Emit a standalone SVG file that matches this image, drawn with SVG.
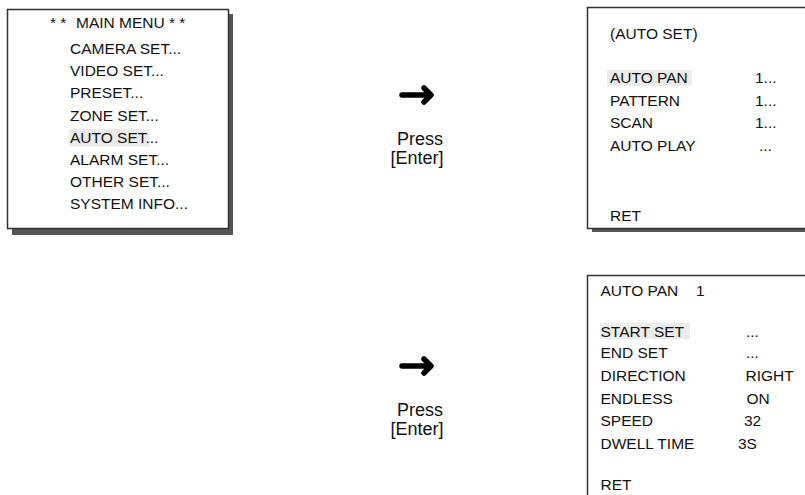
<svg xmlns="http://www.w3.org/2000/svg" width="805" height="495" viewBox="0 0 805 495">
<style>
text{font-family:"Liberation Sans",Arial,sans-serif;font-size:15.5px;fill:#111}
.box{fill:#fff;stroke:#333;stroke-width:1.5}
.shadow{fill:#555}
.hl{fill:#ececec}
.press{font-size:18px;text-anchor:middle}
.arrow{fill:none;stroke:#000;stroke-width:5.5;stroke-linecap:round;stroke-linejoin:round}
</style>
<rect width="805" height="495" fill="#fff"/>
<g id="main-menu">
<rect class="shadow" x="12" y="14" width="221" height="221"/>
<rect class="box" x="7.5" y="9.5" width="221" height="219"/>
<rect class="hl" x="69" y="129" width="81" height="18"/>
<text x="50" y="28">* *</text>
<text x="76" y="28">MAIN MENU * *</text>
<text x="70" y="54">CAMERA SET...</text>
<text x="70" y="76">VIDEO SET...</text>
<text x="70" y="98">PRESET...</text>
<text x="70" y="120.5">ZONE SET...</text>
<text x="70" y="143">AUTO SET...</text>
<text x="70" y="165">ALARM SET...</text>
<text x="70" y="187">OTHER SET...</text>
<text x="70" y="209">SYSTEM INFO...</text>
</g>
<g id="auto-set">
<rect class="shadow" x="592" y="12" width="230" height="220"/>
<rect class="box" x="587.5" y="7.5" width="230" height="221"/>
<rect class="hl" x="607" y="70" width="85" height="16"/>
<text x="610" y="39">(AUTO SET)</text>
<text x="610" y="83">AUTO PAN</text>
<text x="610" y="105.5">PATTERN</text>
<text x="610" y="128">SCAN</text>
<text x="610" y="151">AUTO PLAY</text>
<text x="610" y="220.5">RET</text>
<text x="755" y="83">1...</text>
<text x="755" y="105.5">1...</text>
<text x="755" y="128">1...</text>
<text x="759" y="151">...</text>
</g>
<g id="auto-pan">
<rect class="box" x="587.5" y="275.5" width="230" height="230"/>
<rect class="hl" x="600" y="323" width="90" height="16"/>
<text x="600.5" y="295.5">AUTO PAN</text>
<text x="696" y="295.5">1</text>
<text x="600.5" y="336.5">START SET</text>
<text x="600.5" y="358">END SET</text>
<text x="600.5" y="380.5">DIRECTION</text>
<text x="600.5" y="403.5">ENDLESS</text>
<text x="600.5" y="426">SPEED</text>
<text x="600.5" y="449">DWELL TIME</text>
<text x="600.5" y="489.5">RET</text>
<text x="746" y="336.5">...</text>
<text x="746" y="358">...</text>
<text x="745.5" y="380.5">RIGHT</text>
<text x="746.5" y="403.5">ON</text>
<text x="744" y="426">32</text>
<text x="738" y="449">3S</text>
</g>
<g id="connectors">
<g id="step1">
<path class="arrow" d="M402 95 H430 M424 88 L431 95 L424 102"/>
<text class="press" x="420" y="144.5">Press</text>
<text class="press" x="417" y="164">[Enter]</text>
</g>
<g id="step2">
<path class="arrow" d="M402 366 H430 M424 359 L431 366 L424 373"/>
<text class="press" x="420" y="415.5">Press</text>
<text class="press" x="417" y="435">[Enter]</text>
</g>
</g>
</svg>
